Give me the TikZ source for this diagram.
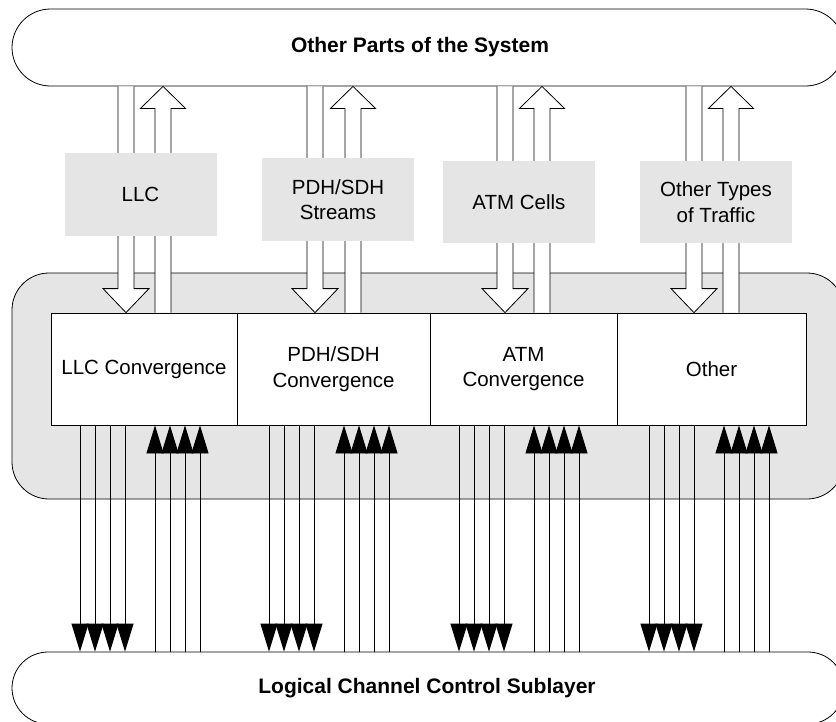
\documentclass[tikz,border=0pt]{standalone}
\usepackage{fontspec}
\setmainfont{Liberation Sans}
\usetikzlibrary{arrows.meta,calc}
\definecolor{panel}{gray}{0.898}
\begin{document}
\begin{tikzpicture}[x=1pt,y=-1pt,
  txt/.style={font=\fontsize{20.5}{25.5}\selectfont, align=center},
  bold/.style={font=\fontsize{21}{25}\selectfont\bfseries},
  bannerbox/.style={draw, fill=white, line width=0.8pt, inner sep=0, minimum width=832pt},
  convbox/.style={draw, fill=white, line width=0.8pt, minimum height=112pt, inner sep=0, txt},
  labelbox/.style={fill=panel, minimum width=152pt, minimum height=82pt, inner sep=0, txt},
  bigarr/.style={draw, fill=white, line width=0.8pt, line join=miter},
  smallarr/.style={line width=0.8pt, -{Triangle[width=17pt,length=28pt]}},
]
\useasboundingbox (0,0) rectangle (836,721);
\clip (0,0) rectangle (836,721);

% grey frame
\node[draw, fill=panel, line width=0.8pt, rounded corners=37pt, minimum width=832pt, minimum height=226pt, inner sep=0] (frame) at (428,386) {};

% convergence boxes
\node[convbox, minimum width=186pt] (c1) at (144,369) {LLC Convergence};
\node[convbox, minimum width=193pt] (c2) at (333.5,369) {PDH/SDH\\Convergence};
\node[convbox, minimum width=187pt] (c3) at (523.5,369) {ATM\\Convergence};
\node[convbox, minimum width=189pt] (c4) at (711.5,369) {Other};

% banners
\node[bannerbox, minimum height=77pt, rounded corners=38.5pt] (top) at (428,47.5) {};
\node[bold] (toptext) at (420,47.5) {Other Parts of the System};
\node[bannerbox, minimum height=72pt, rounded corners=36pt] (bot) at (428,688) {};
\node[bold] (bottext) at (427,688) {Logical Channel Control Sublayer};

% big arrows
\foreach \dn/\up/\b in {126/163/c1, 315/353/c2, 505/542/c3, 694/731/c4}{
  \coordinate (a) at (\dn,0);
  \coordinate (u) at (\up,0);
  \filldraw[bigarr] ($(top.south -| a)+(-8,0)$) -- ($(\b.north -| a)+(-8,-24)$)
     -- ($(\b.north -| a)+(-23,-24)$) -- (\b.north -| a) -- ($(\b.north -| a)+(23,-24)$)
     -- ($(\b.north -| a)+(8,-24)$) -- ($(top.south -| a)+(8,0)$);
  \filldraw[bigarr] ($(\b.north -| u)+(-8,0)$) -- ($(top.south -| u)+(-8,22)$)
     -- ($(top.south -| u)+(-22.5,22)$) -- (top.south -| u) -- ($(top.south -| u)+(22.5,22)$)
     -- ($(top.south -| u)+(8,22)$) -- ($(\b.north -| u)+(8,0)$);
}

% label boxes
\node[labelbox, minimum height=83pt] (l1) at (140.5,194.5) {LLC};
\node[labelbox, minimum height=83pt] (l2) at (338,199.5) {PDH/SDH\\Streams};
\node[labelbox] (l3) at (519,202) {ATM Cells};
\node[labelbox] (l4) at (716,202) {Other Types\\of Traffic};

% small arrows
\foreach \g/\b in {80/c1, 269/c2, 459/c3, 649/c4}{
  \foreach \i in {0,...,3}{
    \coordinate (d) at (\g+15*\i,0);
    \coordinate (v) at (\g+75+15*\i,0);
    \draw[smallarr] (\b.south -| d) -- (bot.north -| d);
    \draw[smallarr] (bot.north -| v) -- (\b.south -| v);
  }
}
\end{tikzpicture}
\end{document}
